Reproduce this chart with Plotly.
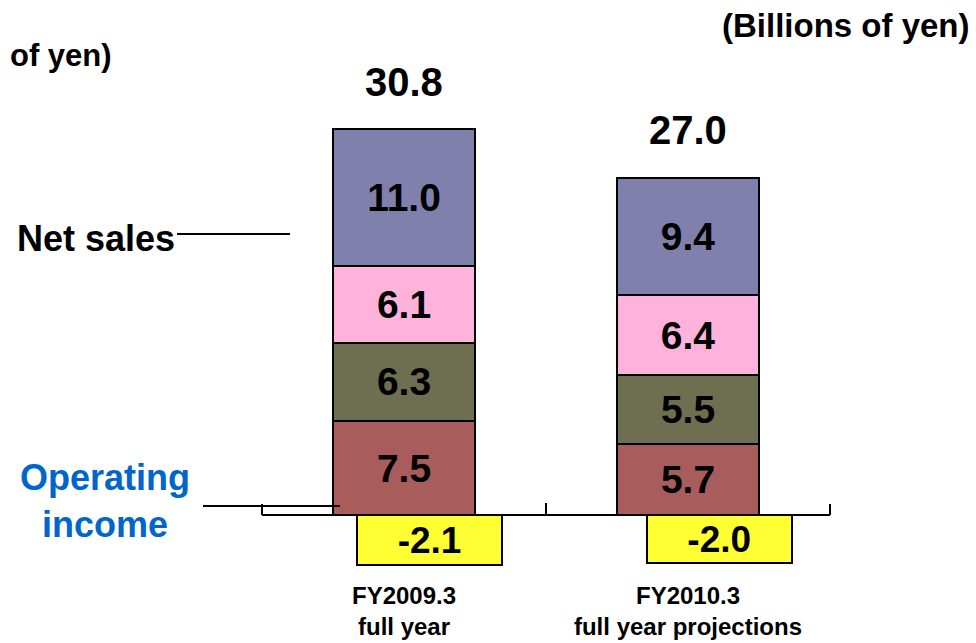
import plotly.graph_objects as go

# ---- data ----
categories = ["FY2009.3<br>full year", "FY2010.3<br>full year projections"]
seg_names = ["Segment 1", "Segment 2", "Segment 3", "Segment 4"]  # bottom -> top
seg_values = [
    [7.5, 5.7],
    [6.3, 5.5],
    [6.1, 6.4],
    [11.0, 9.4],
]
net_sales_total = [30.8, 27.0]
operating_income = [-2.1, -2.0]

# ---- styles ----
seg_colors = ["#a85c5c", "#6e6e50", "#ffb3da", "#8080ac"]
FONT = "Liberation Sans, Arial, sans-serif"
W, H = 976, 643
AX_Y = 515  # pixel row of zero line
AX_L, AX_R = 262, 830

fig = go.Figure()

for name, vals, col in zip(seg_names, seg_values, seg_colors):
    fig.add_trace(go.Bar(
        x=categories, y=vals, name=name, width=0.5,
        marker=dict(color=col, line=dict(color="black", width=2)),
        text=[f"{v:.1f}" for v in vals], textposition="inside",
        insidetextanchor="middle", constraintext="none",
        textfont=dict(family=FONT, size=39, color="black", weight="bold"),
        showlegend=False, hoverinfo="skip",
    ))

fig.add_trace(go.Bar(
    x=categories, y=operating_income, name="Operating income",
    yaxis="y2", width=0.51, offset=[-0.165, -0.145],
    marker=dict(color="#ffff33", line=dict(color="black", width=2)),
    text=[f"{v:.1f}" for v in operating_income], textposition="inside",
    insidetextanchor="middle", constraintext="none",
    textfont=dict(family=FONT, size=37, color="black", weight="bold"),
    showlegend=False, hoverinfo="skip",
))

# totals above stacks
for c, t in zip(categories, net_sales_total):
    fig.add_annotation(x=c, y=t, xref="x", yref="y", text=f"{t:.1f}",
                       showarrow=False, yanchor="middle", yshift=48,
                       font=dict(family=FONT, size=40, color="black", weight="bold"))

def px(xp):
    return xp / W

def py(yp):
    return 1 - yp / H

k1 = 12.5  # px per unit (net sales)
k2 = 24.0  # px per unit (operating income)
below = H - AX_Y

fig.update_layout(
    width=W, height=H,
    margin=dict(l=0, r=0, t=0, b=0),
    paper_bgcolor="white", plot_bgcolor="rgba(0,0,0,0)",
    barmode="stack",
    xaxis=dict(
        domain=[px(AX_L), px(AX_R)], range=[-0.5, 1.5], type="category",
        anchor="free", position=below / H,
        showline=True, linecolor="black", linewidth=2,
        ticks="inside", tickson="boundaries", ticklen=11, tickwidth=2, tickcolor="black",
        showgrid=False, zeroline=False, automargin=False,
        ticklabelstandoff=59,
        tickfont=dict(family=FONT, size=24, color="black", weight="bold"),
    ),
    yaxis=dict(domain=[0, 1], range=[-below / k1, AX_Y / k1], visible=False,
               fixedrange=True),
    yaxis2=dict(overlaying="y", range=[-below / k2, AX_Y / k2], visible=False,
                anchor="x"),
)

# end tick marks of the category axis
for xe in (AX_L, AX_R):
    fig.add_shape(type="line", xref="paper", yref="paper", x0=px(xe), x1=px(xe),
                  y0=py(AX_Y), y1=py(AX_Y - 11), line=dict(color="black", width=2))

# text labels
fig.add_annotation(x=px(972), y=py(25), xref="paper", yref="paper", xanchor="right",
                   yanchor="middle", text="(Billions of yen)", showarrow=False,
                   font=dict(family=FONT, size=33, color="black", weight="bold"))
fig.add_annotation(x=px(8), y=py(55), xref="paper", yref="paper", xanchor="left",
                   yanchor="middle", text="of yen)", showarrow=False,
                   font=dict(family=FONT, size=31, color="black", weight="bold"))
fig.add_annotation(x=px(15), y=py(238), xref="paper", yref="paper", xanchor="left",
                   yanchor="middle", text="Net sales", showarrow=False,
                   font=dict(family=FONT, size=36, color="black", weight="bold"))
fig.add_annotation(x=px(105), y=py(501), xref="paper", yref="paper", xanchor="center",
                   yanchor="middle", text="Operating<br>income", showarrow=False,
                   font=dict(family=FONT, size=36, color="#0066cc", weight="bold"))

# leader lines
fig.add_shape(type="line", xref="paper", yref="paper", x0=px(177), x1=px(290),
              y0=py(234), y1=py(234), line=dict(color="black", width=2))
fig.add_shape(type="line", xref="paper", yref="paper", x0=px(203), x1=px(340),
              y0=py(506), y1=py(506), line=dict(color="black", width=2), layer="above")

fig.write_html("out.html")
